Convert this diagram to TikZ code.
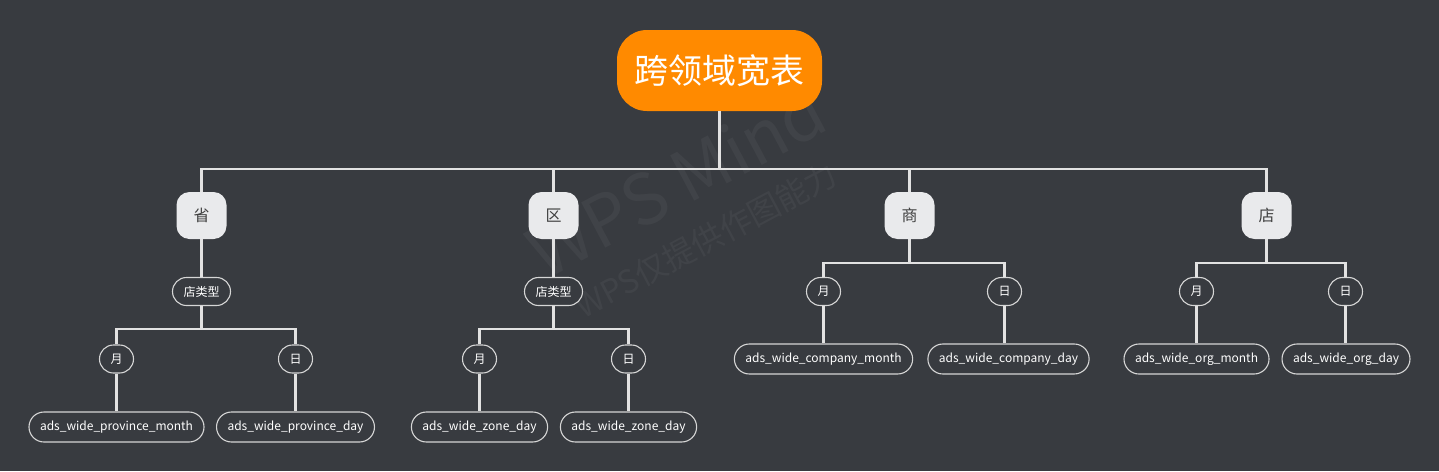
\documentclass[tikz,border=0pt]{standalone}
\usepackage{fontspec}
\setmainfont{Noto Sans CJK SC}
\definecolor{bg}{HTML}{383B40}
\definecolor{rootc}{HTML}{FF8A00}
\definecolor{lonec}{HTML}{E9EAEC}
\definecolor{linec}{HTML}{E2E2E2}
\definecolor{bordc}{HTML}{D6D6D6}
\begin{document}
\begin{tikzpicture}[x=1pt,y=-1pt,
  rootbox/.style={fill=rootc, rounded corners=30pt, minimum width=205pt, minimum height=81pt, text=white, font=\fontsize{34}{40}\selectfont, inner sep=0pt},
  onebox/.style={fill=lonec, rounded corners=13pt, minimum width=50pt, minimum height=47pt, text=black!75, font=\fontsize{16}{19}\selectfont, inner sep=0pt},
  ovalbox/.style={draw=bordc, line width=1.1pt, fill=bg, rounded corners=14pt, minimum height=28pt, inner xsep=11pt, inner ysep=0pt, text=white, font=\fontsize{12}{14}\selectfont},
  leafbox/.style={draw=bordc, line width=1.1pt, fill=bg, rounded corners=15pt, minimum height=30pt, inner xsep=11pt, inner ysep=0pt, text=white, font=\fontsize{12}{15}\selectfont},
  conn/.style={draw=linec, line width=2.2pt},
  wm/.style={text=white, opacity=0.045}
]
\fill[bg] (0,0) rectangle (1439,471);
\useasboundingbox (0,0) rectangle (1439,471);

% watermark
\node[wm, rotate=28, font=\fontsize{70}{70}\selectfont] (wma) at (676,180) {WPS Mind};
\node[wm, rotate=28, font=\fontsize{32}{34}\selectfont] (wmb) at (706,240) {WPS仅提供作图能力};

% nodes
\node[rootbox] (root) at (719.5,70.5) {跨领域宽表};

\node[onebox] (p) at (201.5,215.5) {省};
\node[onebox] (z) at (553.5,215.5) {区};
\node[onebox] (c) at (909.5,215.5) {商};
\node[onebox] (o) at (1266.5,215.5) {店};

\node[ovalbox] (pt) at (201.5,291.5) {店类型};
\node[ovalbox] (zt) at (553.5,291.5) {店类型};

\node[ovalbox] (pm) at (116.5,359) {月};
\node[ovalbox] (pd) at (295.5,359) {日};
\node[ovalbox] (zm) at (479.5,359) {月};
\node[ovalbox] (zd) at (628.5,359) {日};
\node[ovalbox] (cm) at (823.5,291.5) {月};
\node[ovalbox] (cd) at (1004.5,291.5) {日};
\node[ovalbox] (om) at (1196.5,291.5) {月};
\node[ovalbox] (od) at (1345.5,291.5) {日};

\node[leafbox] (pml) at (116.5,427) {ads\_wide\_province\_month};
\node[leafbox] (pdl) at (295.5,427) {ads\_wide\_province\_day};
\node[leafbox] (zml) at (479.5,427) {ads\_wide\_zone\_day};
\node[leafbox] (zdl) at (628.5,427) {ads\_wide\_zone\_day};
\node[leafbox] (cml) at (823.5,359) {ads\_wide\_company\_month};
\node[leafbox] (cdl) at (1008.5,359) {ads\_wide\_company\_day};
\node[leafbox] (oml) at (1196.5,359) {ads\_wide\_org\_month};
\node[leafbox] (odl) at (1346,359) {ads\_wide\_org\_day};

% connectors
\foreach \t in {p,z,c,o} \draw[conn] (root.south) -- ++(0,58) -| (\t.north);
\draw[conn] (p.south) -- (pt.north);
\draw[conn] (z.south) -- (zt.north);
\foreach \t in {pm,pd} \draw[conn] (pt.south) -- ++(0,23) -| (\t.north);
\foreach \t in {zm,zd} \draw[conn] (zt.south) -- ++(0,23) -| (\t.north);
\foreach \t in {cm,cd} \draw[conn] (c.south) -- ++(0,23.5) -| (\t.north);
\foreach \t in {om,od} \draw[conn] (o.south) -- ++(0,23.5) -| (\t.north);
\draw[conn] (pm.south) -- (pml.north);
\draw[conn] (pd.south) -- (pdl.north);
\draw[conn] (zm.south) -- (zml.north);
\draw[conn] (zd.south) -- (zdl.north);
\draw[conn] (cm.south) -- (cml.north);
\draw[conn] (cd.south) -- (cd.south |- cdl.north);
\draw[conn] (om.south) -- (oml.north);
\draw[conn] (od.south) -- (od.south |- odl.north);
\end{tikzpicture}
\end{document}
